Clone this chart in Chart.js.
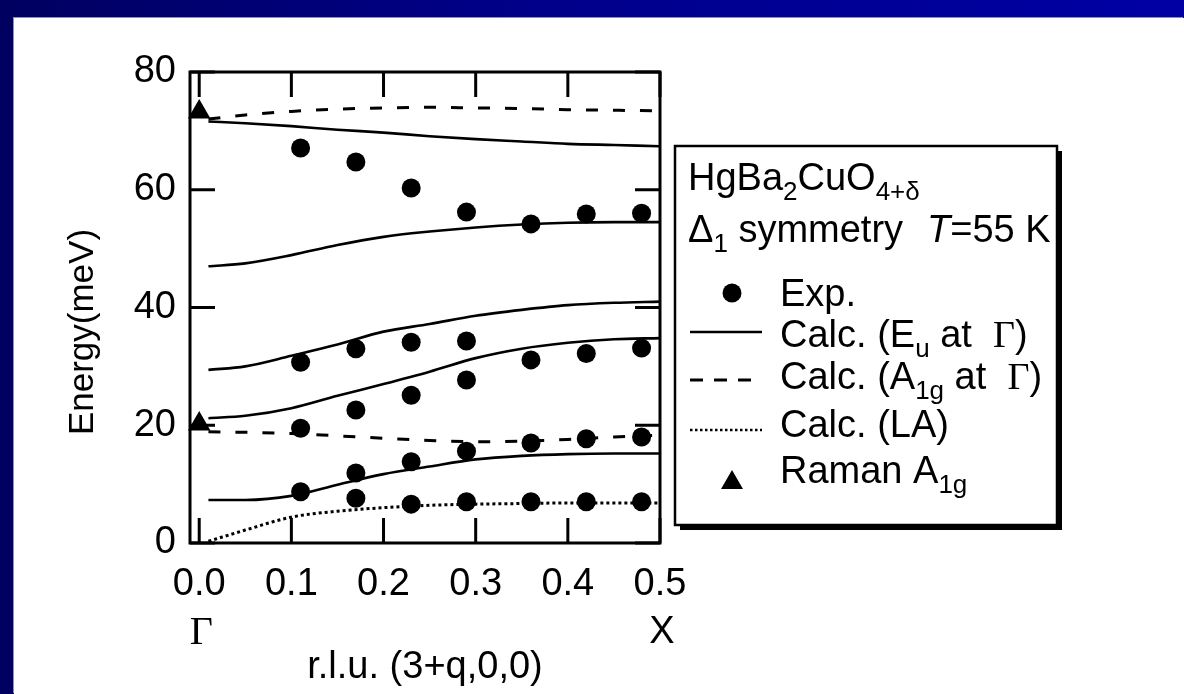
<!DOCTYPE html>
<html>
<head>
<meta charset="utf-8">
<script src="https://cdn.jsdelivr.net/npm/chart.js@4.4.1/dist/chart.umd.min.js"></script>
<style>
  html, body { margin: 0; padding: 0; }
  body { width: 1184px; height: 694px; overflow: hidden;
         background: linear-gradient(90deg, #000060 0%, #00008a 45%, #0000a4 100%); }
  #panel { position: absolute; left: 14px; top: 18px; width: 1170px; height: 676px;
           background: #fff; box-shadow: -1px -1px 0 #8c8cc8; }
  canvas { display: block; }
</style>
</head>
<body>
<div id="panel"><canvas id="phononChart" width="1170" height="676"></canvas></div>
<script>
// q in r.l.u. along (3+q,0,0), energies in meV
var qCalc  = [0.01, 0.05, 0.10, 0.15, 0.20, 0.25, 0.30, 0.35, 0.40, 0.45, 0.50];
var euTop  = [71.6, 71.3, 70.8, 70.2, 69.7, 69.1, 68.6, 68.2, 67.8, 67.6, 67.4];
var euMid  = [47.0, 47.5, 48.9, 50.6, 52.0, 52.9, 53.6, 54.1, 54.4, 54.5, 54.5];
var euLow1 = [29.4, 30.0, 31.8, 33.7, 35.9, 37.2, 38.6, 39.6, 40.4, 40.8, 41.0];
var euLow2 = [21.2, 21.6, 22.9, 25.0, 27.0, 29.1, 31.4, 33.0, 34.0, 34.6, 34.8];
var euLow3 = [7.3, 7.3, 8.0, 9.9, 11.7, 13.0, 14.2, 14.8, 15.1, 15.2, 15.2];
var a1gTop = [72.0, 72.7, 73.3, 73.7, 73.9, 74.0, 73.9, 73.8, 73.6, 73.5, 73.4];
var a1gLow = [18.9, 18.8, 18.6, 18.2, 17.8, 17.4, 17.2, 17.3, 17.6, 18.0, 18.3];
var laCalc = [0.3, 2.2, 4.4, 5.4, 6.0, 6.4, 6.6, 6.7, 6.8, 6.8, 6.8];

// measured points
var expQ = [0.11, 0.11, 0.11, 0.11,
            0.17, 0.17, 0.17, 0.17, 0.17,
            0.23, 0.23, 0.23, 0.23, 0.23,
            0.29, 0.29, 0.29, 0.29, 0.29,
            0.36, 0.36, 0.36, 0.36,
            0.42, 0.42, 0.42, 0.42,
            0.48, 0.48, 0.48, 0.48];
var expE = [67.1, 30.7, 19.5, 8.7,
            64.7, 33.0, 22.6, 11.9, 7.6,
            60.3, 34.1, 25.1, 13.8, 6.6,
            56.2, 34.3, 27.7, 15.6, 7.0,
            54.2, 31.1, 17.0, 7.0,
            55.9, 32.2, 17.7, 7.0,
            56.0, 33.1, 18.0, 7.0];
var ramanQ = [0.0, 0.0];
var ramanE = [73.2, 20.2];

var xTicks = [0.0, 0.1, 0.2, 0.3, 0.4, 0.5];
var yTicks = [0, 20, 40, 60, 80];
var xPointQ = [0.0, 0.5];
var xPointNames = ['\u0393', 'X'];

var sans = '"Liberation Sans", Arial, Helvetica, sans-serif';
var serif = '"Liberation Serif", "Times New Roman", serif';

function pts(xs, ys) {
    return xs.map(function (x, i) { return { x: x, y: ys[i] }; });
}

function calcLine(ys, dash, width) {
    return {
        data: pts(qCalc, ys),
        showLine: true,
        borderColor: '#000',
        borderWidth: width || 2.6,
        borderDash: dash || [],
        pointRadius: 0,
        cubicInterpolationMode: 'monotone',
        fill: false
    };
}

// frame with inward ticks on all four sides
var frameTicks = {
    id: 'frameTicks',
    afterDatasetsDraw: function (chart) {
        var ctx = chart.ctx, a = chart.chartArea;
        var xs = chart.scales.x, ys = chart.scales.y, len = 25;
        ctx.save();
        ctx.strokeStyle = '#000';
        ctx.lineWidth = 3;
        ctx.beginPath();
        xTicks.forEach(function (v) {
            var px = xs.getPixelForValue(v);
            ctx.moveTo(px, a.top); ctx.lineTo(px, a.top + len);
            ctx.moveTo(px, a.bottom); ctx.lineTo(px, a.bottom - len);
        });
        yTicks.forEach(function (v) {
            var py = ys.getPixelForValue(v);
            ctx.moveTo(a.left, py); ctx.lineTo(a.left + len, py);
            ctx.moveTo(a.right, py); ctx.lineTo(a.right - len, py);
        });
        ctx.stroke();
        ctx.strokeRect(a.left, a.top, a.right - a.left, a.bottom - a.top);
        ctx.restore();
    }
};

// y title sits a bit below the axis middle in the original; Γ / X under the q ticks
var axisExtras = {
    id: 'axisExtras',
    afterDraw: function (chart) {
        var ctx = chart.ctx, xs = chart.scales.x;
        ctx.save();
        ctx.fillStyle = '#000';
        ctx.textAlign = 'center';
        ctx.textBaseline = 'middle';
        xPointQ.forEach(function (q, i) {
            ctx.font = (i === 0 ? '40px ' + serif : '38px ' + sans);
            ctx.fillText(xPointNames[i], xs.getPixelForValue(q) + 2, 615);
        });
        ctx.translate(69, 314);
        ctx.rotate(-Math.PI / 2);
        ctx.font = '35px ' + sans;
        ctx.fillText('Energy(meV)', 0, 0);
        ctx.restore();
    }
};

function drawRuns(ctx, x, y, runs) {
    runs.forEach(function (r) {
        var size = r.sub ? 26 : 38;
        ctx.font = (r.italic ? 'italic ' : '') + size + 'px ' + (r.serif ? serif : sans);
        ctx.fillText(r.t, x, y + (r.sub ? 10 : 0));
        x += ctx.measureText(r.t).width;
    });
}

// boxed legend with sub-scripted labels
var legendBox = {
    id: 'legendBox',
    afterDraw: function (chart) {
        var ctx = chart.ctx;
        var bx = 661, by = 128, bw = 382, bh = 379;
        ctx.save();
        ctx.fillStyle = '#000';
        ctx.fillRect(bx + 5, by + 5, bw, bh);
        ctx.fillStyle = '#fff';
        ctx.fillRect(bx, by, bw, bh);
        ctx.strokeStyle = '#000';
        ctx.lineWidth = 2.5;
        ctx.strokeRect(bx, by, bw, bh);

        ctx.fillStyle = '#000';
        ctx.textBaseline = 'alphabetic';
        ctx.textAlign = 'left';
        drawRuns(ctx, 674, 172, [{ t: 'HgBa' }, { t: '2', sub: 1 }, { t: 'CuO' }, { t: '4+\u03b4', sub: 1 }]);
        drawRuns(ctx, 674, 224, [{ t: '\u0394' }, { t: '1', sub: 1 }, { t: ' symmetry' }]);
        drawRuns(ctx, 913, 224, [{ t: 'T', italic: 1 }, { t: '=55 K' }]);
        drawRuns(ctx, 766, 288, [{ t: 'Exp.' }]);
        drawRuns(ctx, 766, 329, [{ t: 'Calc. (E' }, { t: 'u', sub: 1 }, { t: ' at  ' }, { t: '\u0393', serif: 1 }, { t: ')' }]);
        drawRuns(ctx, 766, 371, [{ t: 'Calc. (A' }, { t: '1g', sub: 1 }, { t: ' at  ' }, { t: '\u0393', serif: 1 }, { t: ')' }]);
        drawRuns(ctx, 766, 419, [{ t: 'Calc. (LA)' }]);
        drawRuns(ctx, 766, 465, [{ t: 'Raman A' }, { t: '1g', sub: 1 }]);

        // symbols
        ctx.beginPath();
        ctx.arc(718, 275, 9.5, 0, Math.PI * 2);
        ctx.fill();
        ctx.beginPath();
        ctx.moveTo(718, 452); ctx.lineTo(729, 471); ctx.lineTo(707, 471);
        ctx.closePath();
        ctx.fill();

        ctx.lineWidth = 2.6;
        ctx.beginPath(); ctx.moveTo(676, 314); ctx.lineTo(748, 314); ctx.stroke();
        ctx.lineWidth = 3;
        ctx.setLineDash([13, 11]);
        ctx.beginPath(); ctx.moveTo(676, 362); ctx.lineTo(748, 362); ctx.stroke();
        ctx.lineWidth = 2.5;
        ctx.setLineDash([2.5, 2.5]);
        ctx.beginPath(); ctx.moveTo(676, 412); ctx.lineTo(748, 412); ctx.stroke();
        ctx.restore();
    }
};

var ctx = document.getElementById('phononChart').getContext('2d');
var phononChart = new Chart(ctx, {
    type: 'scatter',
    data: {
        datasets: [
            calcLine(euTop),
            calcLine(euMid),
            calcLine(euLow1),
            calcLine(euLow2),
            calcLine(euLow3),
            calcLine(a1gTop, [12, 15], 3),
            calcLine(a1gLow, [12, 15], 3),
            calcLine(laCalc, [3, 3], 3),
            {
                label: 'Exp.',
                data: pts(expQ, expE),
                pointStyle: 'circle',
                pointRadius: 9.5,
                backgroundColor: '#000',
                borderColor: '#000',
                borderWidth: 0
            },
            {
                label: 'Raman A1g',
                data: pts(ramanQ, ramanE),
                pointStyle: 'triangle',
                pointRadius: 13,
                backgroundColor: '#000',
                borderColor: '#000',
                borderWidth: 0,
                clip: false
            }
        ]
    },
    options: {
        responsive: false,
        animation: false,
        devicePixelRatio: 1,
        layout: { padding: { left: 0, top: 54, right: 524, bottom: 0 } },
        plugins: {
            legend: { display: false },
            tooltip: { enabled: false }
        },
        scales: {
            x: {
                type: 'linear',
                min: -0.01,
                max: 0.5,
                afterBuildTicks: function (s) {
                    s.ticks = xTicks.map(function (v) { return { value: v }; });
                },
                afterFit: function (s) { s.height = 151; },
                grid: { display: false, drawTicks: false },
                border: { display: false },
                ticks: {
                    autoSkip: false,
                    maxRotation: 0,
                    padding: 18,
                    color: '#000',
                    font: { family: sans, size: 38, lineHeight: 1.25 },
                    callback: function (v) { return Number(v).toFixed(1); }
                },
                title: {
                    display: true,
                    text: 'r.l.u. (3+q,0,0)',
                    color: '#000',
                    font: { family: sans, size: 38 },
                    padding: { top: 0, bottom: 4 }
                }
            },
            y: {
                type: 'linear',
                min: 0,
                max: 80,
                afterBuildTicks: function (s) {
                    s.ticks = yTicks.map(function (v) { return { value: v }; });
                },
                afterFit: function (s) { s.width = 176; },
                grid: { display: false, drawTicks: false },
                border: { display: false },
                ticks: {
                    padding: 14,
                    color: '#000',
                    font: { family: sans, size: 38 }
                }
            }
        }
    },
    plugins: [frameTicks, axisExtras, legendBox]
});
</script>
</body>
</html>
